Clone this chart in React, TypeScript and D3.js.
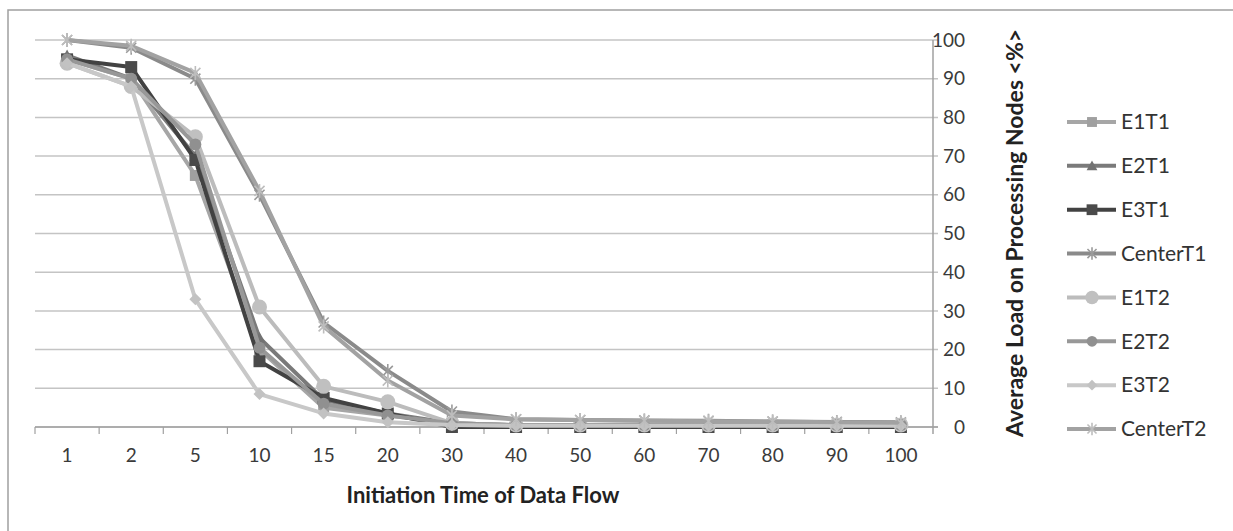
import React from "react";
import * as d3 from "d3";

const categories = ["1", "2", "5", "10", "15", "20", "30", "40", "50", "60", "70", "80", "90", "100"];
const yTicks = [0, 10, 20, 30, 40, 50, 60, 70, 80, 90, 100];

const e1t1 = [95, 90, 65, 20, 5, 3, 1, 0.5, 0.5, 0.5, 0.5, 0.5, 0.5, 0.5];
const e2t1 = [96, 90, 70, 23, 7, 3.5, 1, 0.5, 0.5, 0.5, 0.5, 0.5, 0.5, 0.5];
const e3t1 = [95, 93, 69, 17, 7.5, 3.5, 0, 0, 0, 0, 0, 0, 0, 0];
const centerT1 = [100, 98, 90, 60, 27, 14.5, 4, 2, 1.8, 1.7, 1.6, 1.4, 1.3, 1.2];
const e1t2 = [94, 88, 75, 31, 10.5, 6.5, 1, 0.5, 0.5, 0.5, 0.5, 0.5, 0.5, 0.5];
const e2t2 = [95, 90, 73, 20.5, 6, 3, 1, 0.5, 0.5, 0.5, 0.5, 0.5, 0.5, 0.5];
const e3t2 = [94, 88, 33, 8.5, 3.5, 1.2, 0.5, 0.3, 0.3, 0.3, 0.3, 0.3, 0.3, 0.3];
const centerT2 = [100, 98.5, 91.5, 61, 26, 12, 3, 2, 1.8, 1.6, 1.5, 1.4, 1.2, 1.1];

type Marker = "square" | "triangle" | "star" | "circle" | "diamond";

const series: { name: string; values: number[]; line: string; fill: string; marker: Marker; size: number }[] = [
  { name: "E1T1", values: e1t1, line: "#a6a6a6", fill: "#a0a0a0", marker: "square", size: 11 },
  { name: "E2T1", values: e2t1, line: "#7a7a7a", fill: "#727272", marker: "triangle", size: 12 },
  { name: "E3T1", values: e3t1, line: "#424242", fill: "#4a4a4a", marker: "square", size: 12 },
  { name: "CenterT1", values: centerT1, line: "#8a8a8a", fill: "#9a9a9a", marker: "star", size: 14 },
  { name: "E1T2", values: e1t2, line: "#bcbcbc", fill: "#c0c0c0", marker: "circle", size: 15 },
  { name: "E2T2", values: e2t2, line: "#989898", fill: "#909090", marker: "circle", size: 12 },
  { name: "E3T2", values: e3t2, line: "#c8c8c8", fill: "#c2c2c2", marker: "diamond", size: 12 },
  { name: "CenterT2", values: centerT2, line: "#a2a2a2", fill: "#bdbdbd", marker: "star", size: 14 },
];

const FONT = "Lato, 'Open Sans', sans-serif";

function MarkerShape({ type, x, y, size, fill }: { type: Marker; x: number; y: number; size: number; fill: string }) {
  const h = size / 2;
  if (type === "square") return <rect x={x - h} y={y - h} width={size} height={size} fill={fill} />;
  if (type === "circle") return <circle cx={x} cy={y} r={h} fill={fill} />;
  if (type === "triangle")
    return <path d={`M${x},${y - h}L${x + h},${y + h * 0.8}L${x - h},${y + h * 0.8}Z`} fill={fill} />;
  if (type === "diamond") return <path d={`M${x},${y - h}L${x + h},${y}L${x},${y + h}L${x - h},${y}Z`} fill={fill} />;
  const d = h * 0.72;
  return (
    <path
      d={`M${x},${y - h}V${y + h}M${x - d},${y - d}L${x + d},${y + d}M${x - d},${y + d}L${x + d},${y - d}`}
      stroke={fill}
      strokeWidth={1.6}
      fill="none"
    />
  );
}

export default function App() {
  const width = 1233;
  const height = 531;
  const x = d3.scaleBand().domain(categories).range([35, 933]).padding(0);
  const y = d3.scaleLinear().domain([0, 100]).range([427, 40]);
  const cx = (c: string) => (x(c) as number) + x.bandwidth() / 2;

  const line = d3
    .line<number>()
    .x((_, i) => cx(categories[i]))
    .y((d) => y(d));

  const legendY = d3.scalePoint().domain(series.map((s) => s.name)).range([122, 429]);

  return (
    <svg width={width} height={height} style={{ position: "absolute", left: 0, top: 0, background: "#fff" }}>
      <rect x={8} y={10} width={1240} height={540} fill="#fff" stroke="#a0a0a0" strokeWidth={1.5} />

      {yTicks.map((t) => (
        <line key={t} x1={35} x2={938} y1={y(t)} y2={y(t)} stroke="#c4c4c4" strokeWidth={1.5} />
      ))}
      <line x1={933} x2={933} y1={y(100)} y2={434} stroke="#a0a0a0" strokeWidth={1.5} />
      <line x1={35} x2={938} y1={y(0)} y2={y(0)} stroke="#a0a0a0" strokeWidth={1.5} />
      {categories.map((c) => (
        <line key={c} x1={x(c)} x2={x(c)} y1={y(0)} y2={y(0) + 7} stroke="#a0a0a0" strokeWidth={1.2} />
      ))}

      {series.map((s) => (
        <g key={s.name}>
          <path d={line(s.values) || ""} fill="none" stroke={s.line} strokeWidth={4} strokeLinejoin="round" />
          {s.values.map((v, i) => (
            <MarkerShape key={i} type={s.marker} x={cx(categories[i])} y={y(v)} size={s.size} fill={s.fill} />
          ))}
        </g>
      ))}

      <g fontFamily={FONT} fontSize={19} fill="#3a3a3a">
        {yTicks.map((t) => (
          <text key={t} x={965} y={y(t)} dy="0.35em" textAnchor="end">
            {t}
          </text>
        ))}
        {categories.map((c) => (
          <text key={c} x={cx(c)} y={462} textAnchor="middle">
            {c}
          </text>
        ))}
      </g>

      <text x={483} y={503} textAnchor="middle" fontFamily={FONT} fontSize={22} fontWeight="bold" fill="#222">
        Initiation Time of Data Flow
      </text>
      <text
        transform="translate(1015,233) rotate(-90)"
        textAnchor="middle"
        dy="0.35em"
        fontFamily={FONT}
        fontSize={23}
        fontWeight="bold"
        fill="#222"
      >
        Average Load on Processing Nodes &lt;%&gt;
      </text>

      {series.map((s) => {
        const ly = legendY(s.name) as number;
        return (
          <g key={s.name}>
            <line x1={1067} x2={1116} y1={ly} y2={ly} stroke={s.line} strokeWidth={4} />
            <MarkerShape type={s.marker} x={1092} y={ly} size={s.size * 0.9} fill={s.fill} />
            <text x={1121} y={ly} dy="0.35em" fontFamily={FONT} fontSize={21} fill="#333">
              {s.name}
            </text>
          </g>
        );
      })}
    </svg>
  );
}
